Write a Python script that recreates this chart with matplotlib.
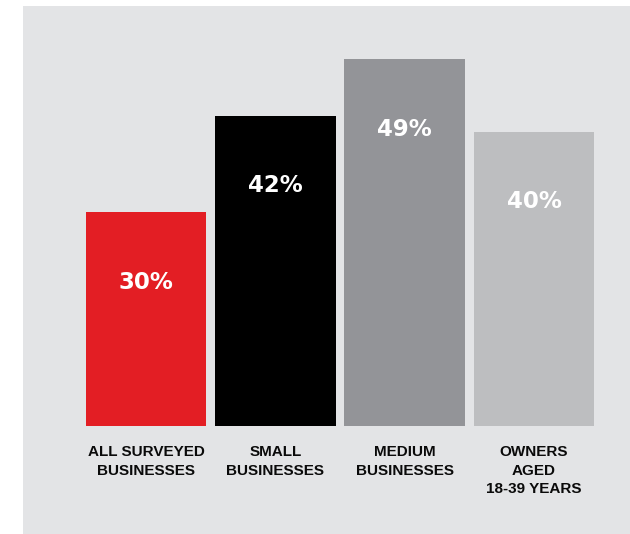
import matplotlib.pyplot as plt
from matplotlib.patches import Rectangle

categories = ['ALL SURVEYED\nBUSINESSES', 'SMALL\nBUSINESSES',
              'MEDIUM\nBUSINESSES', 'OWNERS\nAGED\n18-39 YEARS']
values = [30, 42, 49, 40]
colors = ['#E31E24', '#000000', '#939498', '#BDBEC0']

W, H = 630, 534
fig = plt.figure(figsize=(W / 100, H / 100), dpi=100)
fig.patch.set_facecolor('white')

# grey backdrop panel, kept behind the axes
fig.patches.append(Rectangle((23 / W, 0), 1 - 23 / W, (H - 6) / H,
                             transform=fig.transFigure, facecolor='#E3E4E6',
                             edgecolor='none', zorder=-5))

ax = fig.add_axes([81.4 / W, 108.5 / H, 517.2 / W, (528 - 108.5) / H])
ax.set_zorder(2)
ax.set_facecolor('none')

x = list(range(len(values)))
ax.bar(x, values, width=0.935, color=colors, zorder=2)
ax.set_xlim(-0.5, 3.5)
ax.set_ylim(3.5, 55.6)

for i, v in enumerate(values):
    ax.annotate(f'{v}%', xy=(i, v), xytext=(0, -70), textcoords='offset pixels',
                ha='center', va='center', color='white', fontsize=16.5,
                fontweight='bold', family='DejaVu Sans', zorder=3)
    ax.annotate(categories[i], xy=(i, 0), xycoords=('data', 'axes fraction'),
                xytext=(0, -20), textcoords='offset pixels',
                ha='center', va='top', multialignment='center',
                linespacing=1.38, fontsize=11, fontweight='bold',
                family='Liberation Sans', color='#0A0A0A',
                annotation_clip=False)

ax.set_xticks([])
ax.set_yticks([])
for s in ax.spines.values():
    s.set_visible(False)

fig.savefig('out.png', dpi=100)
